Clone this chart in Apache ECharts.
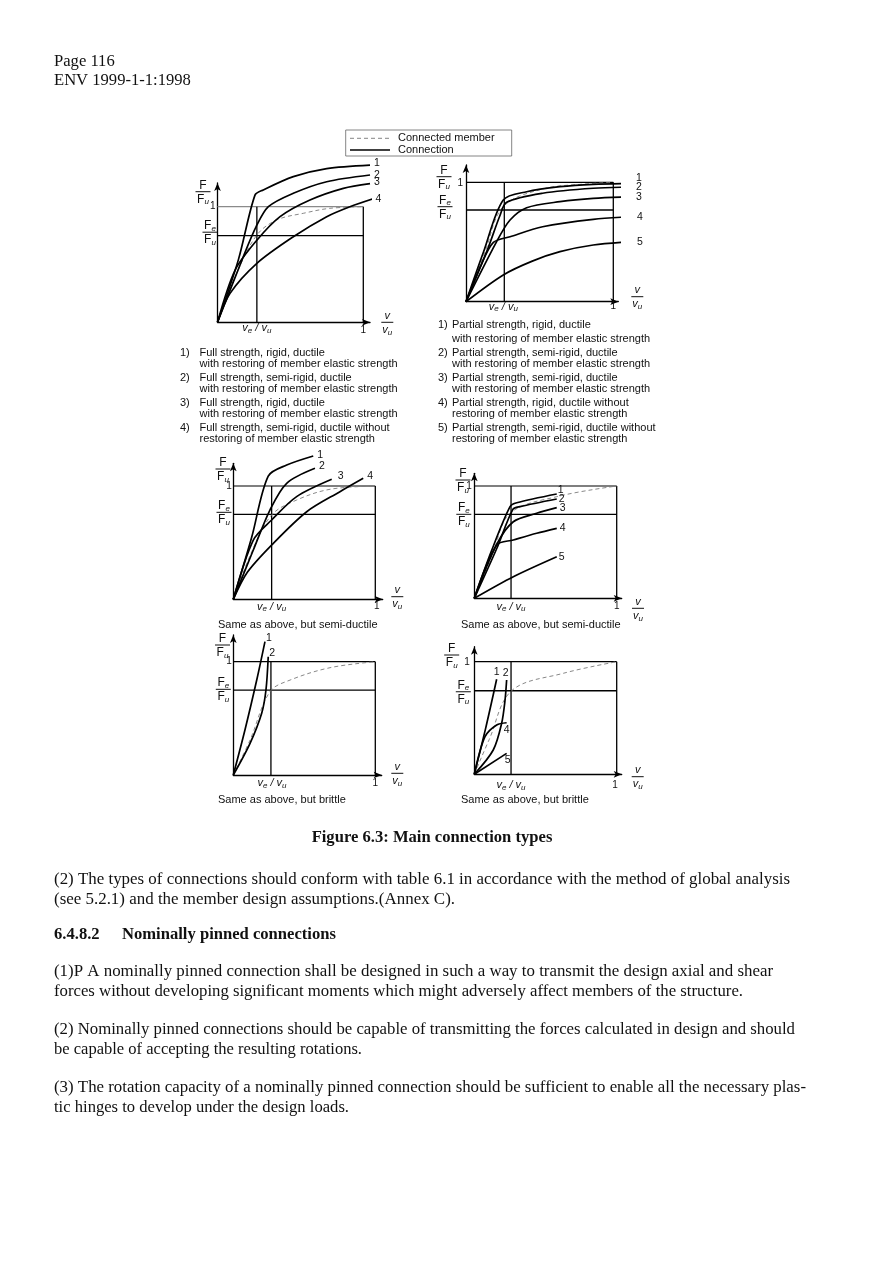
<!DOCTYPE html>
<html>
<head>
<meta charset="utf-8">
<title>Figure 6.3: Main connection types</title>
<script src="https://cdn.jsdelivr.net/npm/echarts@6.0.0/dist/echarts.min.js"></script>
<style>
html,body{margin:0;padding:0;background:#ffffff;}
#chart{width:893px;height:1263px;}
</style>
</head>
<body>
<div id="chart"></div>
<script>
// ---------------- DATA (x = v/vu, y = F/Fu) ----------------
// Panel 1: full strength, ductile
const p1Ve = 0.27, p1Fe = 0.75;
const p1Labels = ['1', '2', '3', '4'];
const p1Conn1 = [[0,0],[0.143,0.54],[0.257,1.10],[0.314,1.145],[0.52,1.26],[0.749,1.33],[1.046,1.36]];
const p1Conn2 = [[0,0],[0.177,0.567],[0.265,0.827],[0.349,1.0],[0.52,1.116],[0.749,1.216],[1.046,1.274]];
const p1Conn3 = [[0,0],[0.12,0.45],[0.27,0.71],[0.429,0.914],[0.634,1.058],[0.863,1.159],[1.046,1.2]];
const p1Conn4 = [[0,0],[0.086,0.25],[0.27,0.51],[0.52,0.74],[0.749,0.914],[0.908,1.0],[1.069,1.07]];
const p1Member = [[0,0],[0.13,0.42],[0.27,0.755],[0.406,0.885],[0.589,0.943],[0.771,0.986],[1,1]];

// Panel 2: partial strength, ductile
const p2Ve = 0.26, p2Fe = 0.768;
const p2Labels = ['1', '2', '3', '4', '5'];
const p2Conn1 = [[0,0],[0.12,0.42],[0.253,0.852],[0.412,0.921],[0.638,0.963],[0.864,0.983],[1.127,0.99]];
const p2Conn2 = [[0,0],[0.15,0.45],[0.23,0.72],[0.276,0.832],[0.52,0.908],[0.864,0.95],[1.127,0.96]];
const p2Conn3 = [[0,0],[0.208,0.503],[0.299,0.684],[0.412,0.787],[0.638,0.838],[0.864,0.866],[1.127,0.879]];
const p2Conn4 = [[0,0],[0.1,0.3],[0.186,0.496],[0.299,0.544],[0.52,0.628],[0.864,0.69],[1.127,0.712]];
const p2Conn5 = [[0,0],[0.253,0.224],[0.45,0.34],[0.638,0.419],[0.864,0.475],[1.127,0.503]];
const p2Member = [[0,0],[0.13,0.42],[0.253,0.796],[0.52,0.944],[0.8,0.985],[1,1]];

// Panel 3: full strength, semi-ductile
const p3Ve = 0.27, p3Fe = 0.75;
const p3Labels = ['1', '2', '3', '4'];
const p3Conn1 = [[0,0],[0.13,0.55],[0.246,1.088],[0.376,1.185],[0.563,1.265]];
const p3Conn2 = [[0,0],[0.141,0.435],[0.258,0.788],[0.376,1.024],[0.575,1.156]];
const p3Conn3 = [[0,0],[0.141,0.523],[0.27,0.70],[0.446,0.906],[0.693,1.059]];
const p3Conn4 = [[0,0],[0.1,0.24],[0.27,0.479],[0.517,0.773],[0.751,0.95],[0.915,1.068]];
const p3Member = [[0,0],[0.13,0.42],[0.27,0.744],[0.446,0.876],[0.681,0.971],[1,1]];

// Panel 4: partial strength, semi-ductile
const p4Ve = 0.258, p4Fe = 0.748;
const p4Labels = ['1', '2', '3', '4', '5'];
const p4Conn1 = [[0,0],[0.12,0.42],[0.251,0.816],[0.298,0.851],[0.579,0.929]];
const p4Conn2 = [[0,0],[0.16,0.45],[0.27,0.79],[0.321,0.816],[0.579,0.884]];
const p4Conn3 = [[0,0],[0.157,0.48],[0.274,0.682],[0.438,0.757],[0.579,0.807]];
const p4Conn4 = [[0,0],[0.157,0.475],[0.274,0.519],[0.438,0.579],[0.579,0.623]];
const p4Conn5 = [[0,0],[0.274,0.192],[0.579,0.37]];
const p4Member = [[0,0],[0.13,0.4],[0.251,0.757],[0.579,0.905],[1,1]];

// Panel 5: full strength, brittle
const p5Ve = 0.265, p5Fe = 0.75;
const p5Labels = ['1', '2'];
const p5Conn1 = [[0,0],[0.082,0.397],[0.165,0.838],[0.223,1.177]];
const p5Conn2 = [[0,0],[0.118,0.28],[0.2,0.545],[0.23,0.75],[0.246,1.044]];
const p5Member = [[0,0],[0.118,0.309],[0.258,0.735],[0.4,0.838],[0.681,0.947],[1,1]];

// Panel 6: partial strength, brittle
const p6Ve = 0.258, p6Fe = 0.742;
const p6Labels = ['1', '2', '4', '5'];
const p6Conn1 = [[0,0],[0.08,0.41],[0.157,0.844]];
const p6Conn2 = [[0,0],[0.133,0.216],[0.192,0.453],[0.216,0.66],[0.227,0.837]];
const p6Conn4 = [[0,0],[0.075,0.334],[0.157,0.438],[0.227,0.458]];
const p6Conn5 = [[0,0],[0.227,0.186]];
const p6Member = [[0,0],[0.105,0.31],[0.262,0.742],[0.625,0.897],[1,1]];

// ---------------- TEXT ----------------
const legendTexts = ['Connected member', 'Connection'];
const captionLeft = [
  ['1)', 'Full strength, rigid, ductile'], ['', 'with restoring of member elastic strength'],
  ['2)', 'Full strength, semi-rigid, ductile'], ['', 'with restoring of member elastic strength'],
  ['3)', 'Full strength, rigid, ductile'], ['', 'with restoring of member elastic strength'],
  ['4)', 'Full strength, semi-rigid, ductile without'], ['', 'restoring of member elastic strength']
];
const captionRight = [
  ['1)', 'Partial strength, rigid, ductile'], ['', 'with restoring of member elastic strength'],
  ['2)', 'Partial strength, semi-rigid, ductile'], ['', 'with restoring of member elastic strength'],
  ['3)', 'Partial strength, semi-rigid, ductile'], ['', 'with restoring of member elastic strength'],
  ['4)', 'Partial strength, rigid, ductile without'], ['', 'restoring of member elastic strength'],
  ['5)', 'Partial strength, semi-rigid, ductile without'], ['', 'restoring of member elastic strength']
];
const captionSemi = 'Same as above, but semi-ductile';
const captionBrittle = 'Same as above, but brittle';
const headerLines = ['Page 116', 'ENV 1999-1-1:1998'];
const figureTitle = 'Figure 6.3: Main connection types';
const bodyLines = [
  '(2) The types of connections should conform with table 6.1 in accordance with the method of global analysis',
  '(see 5.2.1) and the member design assumptions.(Annex C).',
  '(1)P A nominally pinned connection shall be designed in such a way to transmit the design axial and shear',
  'forces without developing significant moments which might adversely affect members of the structure.',
  '(2) Nominally pinned connections should be capable of transmitting the forces calculated in design and should',
  'be capable of accepting the resulting rotations.',
  '(3) The rotation capacity of a nominally pinned connection should be sufficient to enable all the necessary plas-',
  'tic hinges to develop under the design loads.'
];
const sectionNumber = '6.4.8.2';
const sectionTitle = 'Nominally pinned connections';

// ---------------- LAYOUT ----------------
const SANS = '"Liberation Sans", Arial, Helvetica, sans-serif';
const SERIF = '"Liberation Serif", "Times New Roman", serif';

const panels = [
  { x0:217.5, y0:322.3, sx:145.8, sy:115.6, xMax:1.046, yMax:1.205, ve:p1Ve, fe:p1Fe,
    curves:[p1Conn1,p1Conn2,p1Conn3,p1Conn4], member:p1Member, labels:p1Labels, topGrey:true,
    lab:[[7,-2],[7,0],[7,-1],[5,1]], fF:[-14.5,-15], feF:[-7.5,-3.4], y1:[-2,0], veL:[0,6], x1:[0,7.7], vF:[24,0] },
  { x0:466, y0:301.7, sx:147.3, sy:119.4, xMax:1.034, yMax:1.145, ve:p2Ve, fe:p2Fe,
    curves:[p2Conn1,p2Conn2,p2Conn3,p2Conn4,p2Conn5], member:p2Member, labels:p2Labels,
    lab:[[7,-5],[7,0],[7,0],[8,0],[8,0]], fF:[-22,-5.6], feF:[-21,-3.3], y1:[-3,1], veL:[-1,5], x1:[0,5], vF:[24,-5] },
  { x0:233.3, y0:599.3, sx:142, sy:113.3, xMax:1.052, yMax:1.2, ve:p3Ve, fe:p3Fe,
    curves:[p3Conn1,p3Conn2,p3Conn3,p3Conn4], member:p3Member, labels:p3Labels,
    lab:[[7,-1],[7,-2],[9,-3],[7,-2]], fF:[-10.3,-17], feF:[-9.3,-2], y1:[-1.5,0], veL:[0,7.4], x1:[1.4,7.4], vF:[22,-2.6] },
  { x0:474.3, y0:598.3, sx:142.4, sy:112.3, xMax:1.035, yMax:1.113, ve:p4Ve, fe:p4Fe,
    curves:[p4Conn1,p4Conn2,p4Conn3,p4Conn4,p4Conn5], member:p4Member, labels:p4Labels,
    lab:[[4,-4],[5,0],[6,0],[6,0],[5,0]], fF:[-11.3,-6], feF:[-10.5,0], y1:[-2.5,0], veL:[0,8.4], x1:[0,8.4], vF:[21.3,10] },
  { x0:233.3, y0:775, sx:142, sy:113.3, xMax:1.045, yMax:1.236, ve:p5Ve, fe:p5Fe,
    curves:[p5Conn1,p5Conn2], member:p5Member, labels:p5Labels,
    lab:[[4,-4],[4,-4]], fF:[-10.8,-16.7], feF:[-10,-0.7], y1:[-1.5,0], veL:[1,8.3], x1:[0,8.3], vF:[22,-1.7] },
  { x0:474.3, y0:774.3, sx:142.4, sy:112.6, xMax:1.035, yMax:1.133, ve:p6Ve, fe:p6Fe,
    curves:[p6Conn1,p6Conn2,p6Conn4,p6Conn5], member:p6Member, labels:p6Labels,
    lab:[[0,-7],[-1,-7],[0,7],[1,7]], fF:[-22.6,-6.7], feF:[-11,1], y1:[-4.5,1], veL:[0,10.7], x1:[-1.7,10.7], vF:[21,2.4] }
];

// ---------------- OPTION ----------------
const grids = [], xAxes = [], yAxes = [], series = [];
panels.forEach((P, i) => {
  grids.push({ left: P.x0, top: P.y0 - P.yMax * P.sy, width: P.xMax * P.sx, height: P.yMax * P.sy, containLabel: false });
  const axisLine = { show: true, onZero: false, symbol: ['none', 'arrow'], symbolSize: [5, 8],
                     lineStyle: { color: '#000', width: 1.3 } };
  xAxes.push({ gridIndex: i, type: 'value', min: 0, max: P.xMax, axisLine, axisTick: { show: false },
               axisLabel: { show: false }, splitLine: { show: false } });
  yAxes.push({ gridIndex: i, type: 'value', min: 0, max: P.yMax, axisLine, axisTick: { show: false },
               axisLabel: { show: false }, splitLine: { show: false } });
  const base = { type: 'line', xAxisIndex: i, yAxisIndex: i, symbol: 'none', showSymbol: false,
                 clip: false, silent: true, animation: false };
  series.push(Object.assign({}, base, { name: 'p' + (i + 1) + ' ultimate', data: [[0, 1], [1, 1]],
    lineStyle: { color: P.topGrey ? '#8a8a8a' : '#000', width: 1.2 }, z: 1 }));
  series.push(Object.assign({}, base, { name: 'p' + (i + 1) + ' x=1', data: [[1, 1], [1, 0]],
    lineStyle: { color: '#000', width: 1.3 }, z: 1 }));
  series.push(Object.assign({}, base, { name: 'p' + (i + 1) + ' Fe', data: [[0, P.fe], [1, P.fe]],
    lineStyle: { color: '#000', width: 1.3 }, z: 1 }));
  series.push(Object.assign({}, base, { name: 'p' + (i + 1) + ' ve', data: [[P.ve, 0], [P.ve, 1]],
    lineStyle: { color: '#000', width: 1.3 }, z: 1 }));
  series.push(Object.assign({}, base, { name: 'p' + (i + 1) + ' Connected member', data: P.member,
    smooth: 0.35, lineStyle: { color: '#7a7a7a', width: 0.9, type: [4, 3] }, z: 2 }));
  P.curves.forEach((c, k) => {
    series.push(Object.assign({}, base, { name: 'p' + (i + 1) + ' Connection ' + P.labels[k], data: c,
      smooth: 0.3, lineStyle: { color: '#000', width: 1.7 }, z: 3 }));
  });
});

const option = {
  backgroundColor: '#ffffff',
  animation: false,
  grid: grids, xAxis: xAxes, yAxis: yAxes, series: series
};

const chart = echarts.init(document.getElementById('chart'), null, { renderer: 'canvas' });
chart.setOption(option);

// ---------------- TEXT / ANNOTATIONS ----------------
const mctx = document.createElement('canvas').getContext('2d');
function tw(t, size, italic, family, bold) {
  mctx.font = (italic ? 'italic ' : '') + (bold ? 'bold ' : '') + size + 'px ' + (family || SANS);
  return mctx.measureText(t).width;
}
function txt(x, y, t, o) {
  o = o || {};
  const el = { type: 'text', x: x, y: y, silent: true, z: 10,
    style: { text: t, fontFamily: o.family || SANS, fontSize: o.size || 11, fontStyle: o.italic ? 'italic' : 'normal',
             fontWeight: o.bold ? 'bold' : 'normal', fill: o.fill || '#111', align: o.align || 'left',
             verticalAlign: o.va || 'middle' } };
  if (o.right) {
    const w = tw(t, o.size || 11, o.italic, o.family, o.bold);
    el.scaleX = (o.right - x) / w;
  }
  return el;
}
function seq(x, y, parts, align) {
  const ws = parts.map(p => tw(p.t, p.s, p.i));
  const total = ws.reduce((a, b) => a + b, 0);
  let cx = align === 'center' ? x - total / 2 : (align === 'right' ? x - total : x);
  return parts.map((p, k) => {
    const el = txt(cx, y + (p.dy || 0), p.t, { size: p.s, italic: p.i });
    cx += ws[k];
    return el;
  });
}
function frac(cx, cy, num, den, w) {
  return [].concat(
    seq(cx, cy - 6.5, num, 'center'),
    [{ type: 'line', silent: true, z: 10, shape: { x1: cx - w / 2, y1: cy, x2: cx + w / 2, y2: cy },
       style: { stroke: '#111', lineWidth: 1 } }],
    seq(cx, cy + 7.5, den, 'center'));
}
const F = { t: 'F', s: 12 };
const subU = { t: 'u', s: 8, i: true, dy: 3 };
const subE = { t: 'e', s: 8, i: true, dy: 3 };
const V = { t: 'v', s: 11, i: true };

const g = [];
panels.forEach((P, i) => {
  const px = (x, y) => chart.convertToPixel({ gridIndex: i }, [x, y]);
  const p01 = px(0, 1), p0fe = px(0, P.fe), pve = px(P.ve, 0), p10 = px(1, 0);
  g.push(...frac(p01[0] + P.fF[0], p01[1] + P.fF[1], [F], [F, subU], 15));
  g.push(...frac(p0fe[0] + P.feF[0], p0fe[1] + P.feF[1], [F, subE], [F, subU], 15));
  g.push(txt(p01[0] + P.y1[0], p01[1] + P.y1[1], '1', { size: 10, align: 'right' }));
  g.push(...seq(pve[0] + P.veL[0], pve[1] + P.veL[1], [V, { t: 'e', s: 8, i: true, dy: 2.5 }, { t: ' / ', s: 11, i: true }, V, { t: 'u', s: 8, i: true, dy: 2.5 }], 'center'));
  g.push(txt(p10[0] + P.x1[0], p10[1] + P.x1[1], '1', { size: 10, align: 'center' }));
  g.push(...frac(p10[0] + P.vF[0], p10[1] + P.vF[1], [V], [V, subU], 12));
  P.curves.forEach((c, k) => {
    const e = px(c[c.length - 1][0], c[c.length - 1][1]);
    g.push(txt(e[0] + P.lab[k][0], e[1] + P.lab[k][1], P.labels[k], { size: 10.5, align: 'center' }));
  });
});

// legend box
g.push({ type: 'rect', silent: true, z: 9, shape: { x: 345.7, y: 130, width: 166, height: 26 },
         style: { fill: '#fff', stroke: '#666', lineWidth: 0.8 } });
g.push({ type: 'line', silent: true, z: 10, shape: { x1: 350, y1: 138.3, x2: 390, y2: 138.3 },
         style: { stroke: '#777', lineWidth: 0.9, lineDash: [4, 3] } });
g.push({ type: 'line', silent: true, z: 10, shape: { x1: 350, y1: 150, x2: 390, y2: 150 },
         style: { stroke: '#000', lineWidth: 1.7 } });
g.push(txt(398, 138.3, legendTexts[0], { size: 11 }));
g.push(txt(398, 150.3, legendTexts[1], { size: 11 }));

// captions under the panels
const leftYs = [352.5, 363.5, 377.5, 388.5, 402.5, 413.5, 427.5, 438.5];
captionLeft.forEach((r, k) => {
  if (r[0]) g.push(txt(180, leftYs[k], r[0], { size: 11 }));
  g.push(txt(199.5, leftYs[k], r[1], { size: 11 }));
});
const rightYs = [325, 338.5, 352.5, 363.5, 377.5, 388.5, 402.5, 413.5, 427.5, 438.5];
captionRight.forEach((r, k) => {
  if (r[0]) g.push(txt(438, rightYs[k], r[0], { size: 11 }));
  g.push(txt(452, rightYs[k], r[1], { size: 11 }));
});
g.push(txt(218, 625, captionSemi, { size: 11 }));
g.push(txt(461, 625, captionSemi, { size: 11 }));
g.push(txt(218, 800, captionBrittle, { size: 11 }));
g.push(txt(461, 800, captionBrittle, { size: 11 }));

// page text
const LM = 54;
g.push(txt(LM, 61.5, headerLines[0], { family: SERIF, size: 16.6 }));
g.push(txt(LM, 80.5, headerLines[1], { family: SERIF, size: 16.6 }));
g.push(txt(432, 838, figureTitle, { family: SERIF, size: 16.6, bold: true, align: 'center' }));
const bodyYs = [880, 900, 972, 992, 1030, 1050, 1088, 1108];
const bodyRight = [790, 455, 773, 743, 795, 362, 806, 349];
bodyLines.forEach((t, k) => g.push(txt(LM, bodyYs[k], t, { family: SERIF, size: 16.6, right: bodyRight[k] })));
g.push(txt(LM, 935, sectionNumber, { family: SERIF, size: 16.6, bold: true }));
g.push(txt(LM + 68, 935, sectionTitle, { family: SERIF, size: 16.6, bold: true }));

chart.setOption({ graphic: { elements: g } });
</script>
</body>
</html>
